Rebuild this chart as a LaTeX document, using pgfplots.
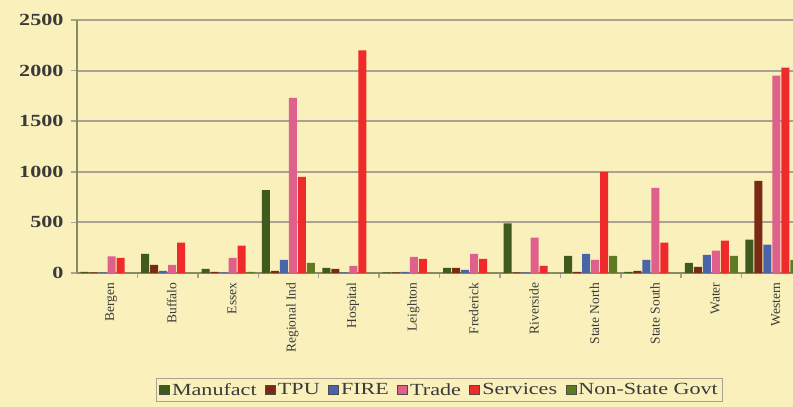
\documentclass[border=0pt]{standalone}
\usepackage{pgfplots}
\usepackage{pgfplotstable}
\pgfplotsset{compat=1.18}
\usepackage{fontspec}
\setmainfont{Liberation Serif}
\definecolor{bg}{HTML}{F9F0BC}
\definecolor{cMan}{HTML}{3E5A1C}
\definecolor{cTPU}{HTML}{7A2A14}
\definecolor{cFIRE}{HTML}{4A64A8}
\definecolor{cTrade}{HTML}{E0608C}
\definecolor{cServ}{HTML}{EE2A2A}
\definecolor{cGov}{HTML}{5E7A22}
\definecolor{gridc}{HTML}{A8A292}
\definecolor{axc}{HTML}{8A8A62}
\definecolor{txt}{HTML}{3A3A3A}
\newcommand{\wide}[1]{\scalebox{1.3}[1]{#1}}

\pgfplotstableread{
x man tpu fire trade serv gov
0 10 5 5 165 150 0
1 190 80 20 80 300 0
2 40 10 5 150 270 10
3 820 20 130 1730 950 100
4 50 40 5 70 2200 0
5 5 5 10 160 140 0
6 50 50 30 190 140 0
7 490 5 5 350 70 0
8 170 10 190 130 1000 170
9 10 20 130 840 300 0
10 100 60 180 220 320 170
11 330 910 280 1950 2030 130
}\data

\begin{document}
\begin{tikzpicture}
\clip (-77pt,-134pt) rectangle (716pt,273pt);
\fill[bg] (-77pt,-134pt) rectangle (716pt,273pt);
\begin{axis}[
  at={(0,0)}, anchor=south west,
  scale only axis, width=725pt, height=253pt,
  ymin=0, ymax=2500, xmin=-0.5, xmax=11.5,
  ybar=1pt, bar width=8pt,
  axis lines*=left,
  axis line style={axc, line width=1.5pt},
  ymajorgrids, grid style={gridc, line width=2pt},
  ytick={0,500,...,2500},
  tick align=outside,
  major tick length=6pt,
  tick style={gridc, line width=1.5pt},
  xtick={0,...,11},
  x tick style={draw=none},
  minor x tick num=1,
  minor x tick style={draw=gridc, line width=1.5pt},
  minor tick length=5pt,
  xticklabels={Bergen, Buffalo, Essex, Regional Ind, Hospital, Leighton, Frederick, Riverside, State North, State South, Water, Western},
  xticklabel style={rotate=90, anchor=east, font=\fontsize{13.5}{13.5}\selectfont, text=txt, yshift=-4pt},
  yticklabel style={font=\fontsize{17}{17}\selectfont\bfseries, text=txt, xshift=-3pt, xscale=1.3},
  /pgf/number format/assume math mode=true,
  /pgf/number format/1000 sep={},
  legend style={at={(0.5,0)}, anchor=center, yshift=-117pt,
    legend columns=-1, draw=gridc, line width=1.2pt, fill=bg,
    font=\fontsize{17}{17}\selectfont, text=txt, inner sep=2.5pt,
    /tikz/every even column/.append style={column sep=6.5pt}},
  legend image code/.code={\draw[#1, draw=black!70, line width=0.8pt] (0pt,-4pt) rectangle (10pt,5pt);},
]
\addplot[fill=cMan, draw=none] table[x=x, y=man]{\data};
\addplot[fill=cTPU, draw=none] table[x=x, y=tpu]{\data};
\addplot[fill=cFIRE, draw=none] table[x=x, y=fire]{\data};
\addplot[fill=cTrade, draw=none] table[x=x, y=trade]{\data};
\addplot[fill=cServ, draw=none] table[x=x, y=serv]{\data};
\addplot[fill=cGov, draw=none] table[x=x, y=gov]{\data};
\legend{\wide{Manufact}, \wide{TPU}, \wide{FIRE}, \wide{Trade}, \wide{Services}, \wide{Non-State Govt}}
\end{axis}
\end{tikzpicture}
\end{document}
